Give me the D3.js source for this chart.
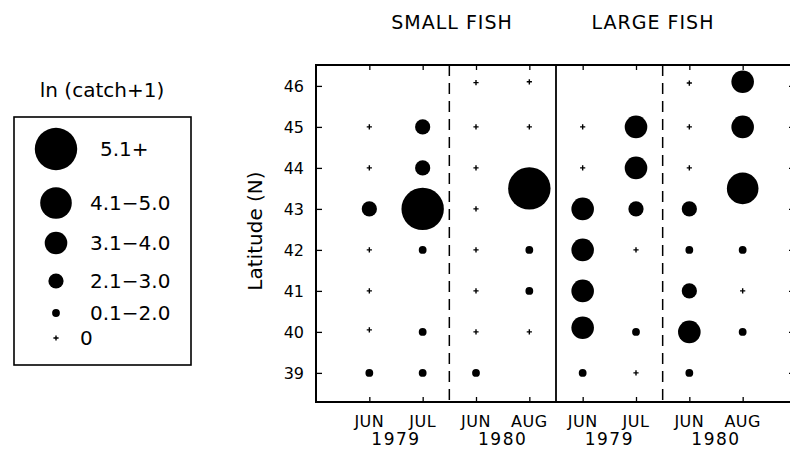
<!DOCTYPE html>
<html>
<head>
<meta charset="utf-8">
<script src="https://cdn.jsdelivr.net/npm/d3@7"></script>
<style>
  html, body { margin: 0; padding: 0; background: #fff; }
  svg { display: block; }
  text { font-family: "DejaVu Sans", sans-serif; fill: #000; }
</style>
</head>
<body>
<svg id="chart" width="790" height="453"></svg>
<script>
// ---------------- data ----------------
const groups = ["SMALL FISH", "LARGE FISH"];
const months = ["JUN", "JUL", "JUN", "AUG", "JUN", "JUL", "JUN", "AUG"];
const years = ["1979", "1980", "1979", "1980"];
const latTicks = [39, 40, 41, 42, 43, 44, 45, 46];
const legendLabels = ["5.1+", "4.1\u22125.0", "3.1\u22124.0", "2.1\u22123.0", "0.1\u22122.0", "0"];
const legendClasses = [5, 4, 3, 2, 1, 0];

// each entry: [latitude, catch class] ; class 0 = zero catch (+)
const smallJun1979 = [[45, 0], [44, 0], [43, 2], [42, 0], [41, 0], [40.05, 0], [39, 1]];
const smallJul1979 = [[45, 2], [44, 2], [43, 5], [42, 1], [40, 1], [39, 1]];
const smallJun1980 = [[46.08, 0], [45, 0], [44, 0], [43, 0], [42, 0], [41, 0], [40, 0], [39, 1]];
const smallAug1980 = [[46.1, 0], [45, 0], [43.5, 5], [42, 1], [41, 1], [40, 0]];
const largeJun1979 = [[45, 0], [44, 0], [43, 3], [42, 3], [41, 3], [40.1, 3], [39, 1]];
const largeJul1979 = [[45, 3], [44, 3], [43, 2], [42, 0], [40, 1], [39, 0]];
const largeJun1980 = [[46.07, 0], [45, 0], [44, 0], [43, 2], [42, 1], [41, 2], [40, 3], [39, 1]];
const largeAug1980 = [[46.1, 3], [45, 3], [43.5, 4], [42, 1], [41, 0], [40, 1]];
const columnData = [smallJun1979, smallJul1979, smallJun1980, smallAug1980,
                    largeJun1979, largeJul1979, largeJun1980, largeAug1980];

// ---------------- layout ----------------
const svg = d3.select("#chart");
const plot = { left: 316, top: 65, bottom: 402, right: 796 };

const x = d3.scaleLinear().domain([0, 9]).range([plot.left, plot.right]);
const y = d3.scaleLinear().domain([38.29, 46.51]).range([plot.bottom, plot.top]);
const r = d3.scaleOrdinal().domain([1, 2, 3, 4, 5]).range([3.9, 7.6, 11.3, 15.8, 21.2]);

// frame
svg.append("rect")
  .attr("x", plot.left).attr("y", plot.top)
  .attr("width", plot.right - plot.left).attr("height", plot.bottom - plot.top)
  .attr("fill", "none").attr("stroke", "#000").attr("stroke-width", 2);

// axes with inward ticks
const colIdx = d3.range(1, 9);
svg.append("g").attr("transform", `translate(0,${plot.bottom})`)
  .call(d3.axisBottom(x).tickValues(colIdx).tickSize(-5).tickFormat(""))
  .call(g => g.select(".domain").remove());
svg.append("g").attr("transform", `translate(0,${plot.top})`)
  .call(d3.axisTop(x).tickValues(colIdx).tickSize(-5).tickFormat(""))
  .call(g => g.select(".domain").remove());
const yAxis = svg.append("g").attr("transform", `translate(${plot.left},0)`)
  .call(d3.axisLeft(y).tickValues(latTicks).tickSize(-6).tickPadding(12).tickFormat(d3.format("d")))
  .call(g => g.select(".domain").remove());
yAxis.selectAll("text").style("font-size", "16px").style("font-family", "DejaVu Sans").attr("dy", "0.36em");
svg.append("g").attr("transform", `translate(${plot.right},0)`)
  .call(d3.axisRight(y).tickValues(latTicks).tickSize(-7).tickFormat(""))
  .call(g => g.select(".domain").remove());
svg.selectAll(".tick line").attr("stroke", "#000").attr("stroke-width", 1.3);

// dividers
[2.5, 6.5].forEach(v => {
  svg.append("line").attr("x1", x(v)).attr("x2", x(v))
    .attr("y1", plot.top).attr("y2", plot.bottom)
    .attr("stroke", "#000").attr("stroke-width", 1.5).attr("stroke-dasharray", "11,7");
});
svg.append("line").attr("x1", x(4.5)).attr("x2", x(4.5))
  .attr("y1", plot.top).attr("y2", plot.bottom)
  .attr("stroke", "#000").attr("stroke-width", 1.8);

// marks
function plus(sel, cx, cy, s) {
  sel.append("path")
    .attr("d", `M${cx - s},${cy}H${cx + s}M${cx},${cy - s}V${cy + s}`)
    .attr("stroke", "#000").attr("stroke-width", 1.4).attr("fill", "none");
}
const marks = svg.append("g");
columnData.forEach((col, i) => {
  col.forEach(([lat, cls]) => {
    if (cls === 0) plus(marks, x(i + 1), y(lat), 2.6);
    else marks.append("circle").attr("cx", x(i + 1)).attr("cy", y(lat)).attr("r", r(cls)).attr("fill", "#000");
  });
});

// x labels
svg.append("g").selectAll("text").data(months).join("text")
  .attr("x", (d, i) => x(i + 1)).attr("y", 427)
  .attr("text-anchor", "middle").style("font-size", "16px").style("letter-spacing", "0.5px")
  .text(d => d);
svg.append("g").selectAll("text").data(years).join("text")
  .attr("x", (d, i) => x(2 * i + 1.5)).attr("y", 445)
  .attr("text-anchor", "middle").style("font-size", "17px").style("letter-spacing", "1.5px")
  .text(d => d);

// group titles
svg.append("g").selectAll("text").data(groups).join("text")
  .attr("x", (d, i) => i === 0 ? 452 : 653).attr("y", 29)
  .attr("text-anchor", "middle").style("font-size", "19px").style("letter-spacing", "1px")
  .text(d => d);

// y title
svg.append("text")
  .attr("transform", "translate(262,231) rotate(-90)")
  .attr("text-anchor", "middle").style("font-size", "20px")
  .text("Latitude (N)");

// legend
svg.append("text").attr("x", 102).attr("y", 97).attr("text-anchor", "middle")
  .style("font-size", "20px").text("ln (catch+1)");
svg.append("rect").attr("x", 14).attr("y", 117).attr("width", 177).attr("height", 248)
  .attr("fill", "none").attr("stroke", "#000").attr("stroke-width", 1.6);
const legendY = [149, 203, 243, 281, 313, 338];
const legendTextX = [100, 90, 90, 90, 90, 80];
legendClasses.forEach((cls, i) => {
  if (cls === 0) plus(svg, 56, legendY[i], 2.6);
  else svg.append("circle").attr("cx", 56).attr("cy", legendY[i]).attr("r", r(cls)).attr("fill", "#000");
  svg.append("text").attr("x", legendTextX[i]).attr("y", legendY[i] + 7)
    .style("font-size", "20px").text(legendLabels[i]);
});
</script>
</body>
</html>
